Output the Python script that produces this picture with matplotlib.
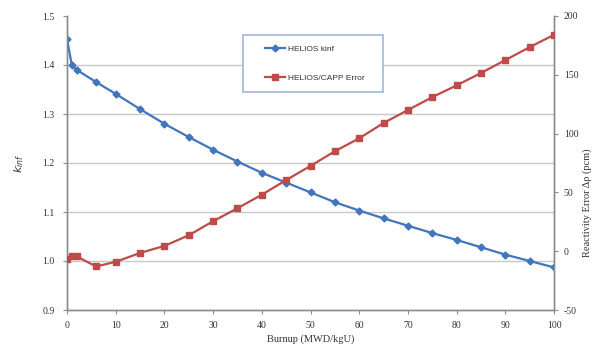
import matplotlib
matplotlib.use("Agg")
import matplotlib.pyplot as plt
from matplotlib.lines import Line2D
from matplotlib.patches import Rectangle

burnup_kinf = [0, 1, 2, 6, 10, 15, 20, 25, 30, 35, 40, 45, 50, 55, 60, 65, 70, 75, 80, 85, 90, 95, 100]
kinf = [1.453, 1.399, 1.390, 1.365, 1.341, 1.310, 1.280, 1.253, 1.227, 1.203, 1.180, 1.160, 1.140,
        1.120, 1.103, 1.087, 1.072, 1.057, 1.043, 1.028, 1.013, 1.000, 0.987]
burnup_err = [0, 1, 2, 6, 10, 15, 20, 25, 30, 35, 40, 45, 50, 55, 60, 65, 70, 75, 80, 85, 90, 95, 100]
error_pcm = [-6.5, -4, -4.5, -13, -9, -1.5, 4.5, 13.5, 25.5, 36.5, 48, 60.5, 72.5, 85, 96, 109,
             120, 131, 141, 151.5, 162.5, 173.5, 184]

x_ticks = [0, 10, 20, 30, 40, 50, 60, 70, 80, 90, 100]
left_ticks = [0.9, 1.0, 1.1, 1.2, 1.3, 1.4, 1.5]
right_ticks = [-50, 0, 50, 100, 150, 200]

BLUE = "#4275bd"
RED = "#be4b48"
AXC = "#8c8c8c"
TXT = "#333333"
serif = ["Liberation Serif", "DejaVu Serif"]

fig = plt.figure(figsize=(5.95, 3.51), dpi=100)
ax = fig.add_axes([67/595, 41/351, 487/595, 294/351])
ax2 = ax.twinx()

ax.plot(burnup_kinf, kinf, color=BLUE, lw=1.6, marker="D", ms=3.5, mec=BLUE, mfc=BLUE,
        label="HELIOS kinf", zorder=3)
ax2.plot(burnup_err, error_pcm, color=RED, lw=1.6, marker="s", ms=5, mec=RED, mfc=RED,
         label="HELIOS/CAPP Error", zorder=3)

ax.set_xlim(0, 100)
ax.set_ylim(0.9, 1.5)
ax2.set_ylim(-50, 200)
ax.set_xticks(x_ticks)
ax.set_yticks(left_ticks)
ax2.set_yticks(right_ticks)
ax.set_yticklabels([f"{v:.1f}" for v in left_ticks])
ax2.set_yticklabels([str(v) for v in right_ticks])

for y in left_ticks[1:-1]:
    ax.axhline(y, color="#c8c8c8", lw=1.0, zorder=0)

for a in (ax, ax2):
    a.spines["top"].set_visible(False)
    for s in ("left", "right", "bottom"):
        a.spines[s].set_color(AXC)
        a.spines[s].set_linewidth(1.0)
    a.tick_params(colors=AXC, labelcolor=TXT, labelsize=7, length=3, width=0.8)
    for lab in a.get_xticklabels() + a.get_yticklabels():
        lab.set_family(serif)

ax.tick_params(axis="x", pad=5)
ax.tick_params(axis="y", pad=6)
ax2.tick_params(axis="y", pad=4)

ax.set_xlabel("Burnup (MWD/kgU)", family=serif, fontsize=7.5, color=TXT, labelpad=3)
fig.text(19/595, 1 - 163/351, r"$k_{inf}$", rotation=90, ha="center", va="center",
         fontsize=8, color=TXT, family=serif)
fig.text(587/595, 1 - 203/351, "Reactivity Error \u0394\u03c1 (pcm)", rotation=90,
         ha="center", va="center", fontsize=7.5, color=TXT, family=serif)

# legend frame
ax2.add_patch(Rectangle((0.3614, 0.7415), 0.2875, 0.1939, transform=ax2.transAxes,
                        facecolor="white", edgecolor="#9fb6d8", lw=1.2, zorder=5))
handles = [Line2D([], [], color=BLUE, lw=1.6, marker="D", ms=3.5),
           Line2D([], [], color=RED, lw=1.6, marker="s", ms=5)]
leg = ax2.legend(handles, ["HELIOS kinf", "HELIOS/CAPP Error"], loc="upper left",
                 bbox_to_anchor=(0.4066, 0.900), frameon=False,
                 borderpad=0, labelspacing=2.5, handlelength=2.4, handletextpad=0.4,
                 borderaxespad=0, prop={"family": ["Liberation Sans", "DejaVu Sans"], "size": 6})
leg.set_zorder(6)
for t in leg.get_texts():
    t.set_color(TXT)

fig.savefig("out.png", dpi=100)
